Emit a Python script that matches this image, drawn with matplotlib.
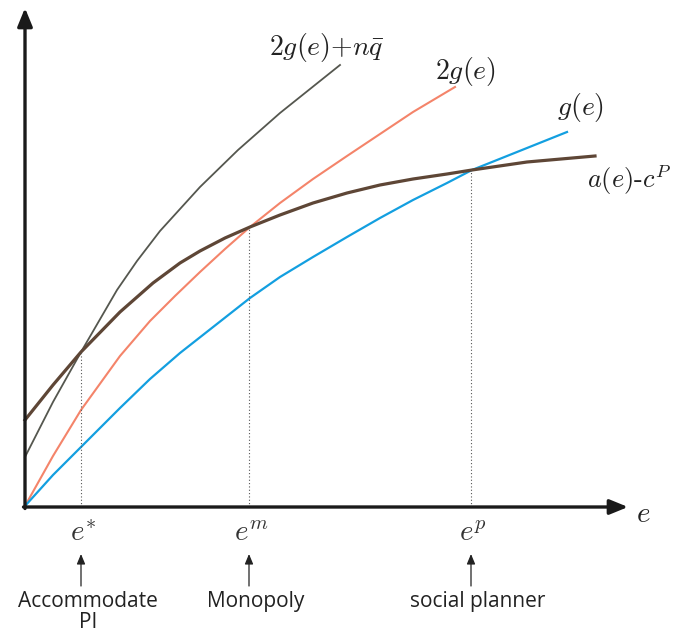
import matplotlib.pyplot as plt

plt.rcParams['mathtext.fontset'] = 'cm'

# curve readings (e along x axis, value along y axis), origin at the axes corner
g_e = [0, 28, 56, 95, 125, 155, 225, 255, 288, 322, 355, 388, 422, 447, 542]
g_y = [1, 32, 60, 99, 128, 154, 209, 230, 250, 270, 289, 307, 324, 337, 375]

g2_e = [0, 28, 56, 95, 125, 150, 175, 200, 225, 255, 288, 322, 355, 388, 430]
g2_y = [1, 51, 97, 151, 186, 211, 235, 258, 280, 304, 328, 351, 373, 395, 420]

gq_e = [0, 28, 56, 92, 112, 135, 175, 213, 255, 315]
gq_y = [50, 105, 155, 217, 246, 276, 320, 357, 394, 442]

a_e = [0, 28, 56, 95, 128, 155, 175, 200, 225, 255, 288, 322, 355, 388, 422, 447, 502, 570]
a_y = [87, 122, 155, 195, 224, 244, 256, 269, 280, 292, 304, 314, 322, 328, 333, 337, 345, 351]

# equilibrium points: (e, value)
eq_e = [56, 224, 446]
eq_y = [155, 280, 337]
eq_labels = [r'$e^{*}$', r'$e^{m}$', r'$e^{p}$']
eq_names = ['Accommodate\nPI', 'Monopoly', 'social planner']

fig = plt.figure(figsize=(6.73, 6.35), dpi=100)
ax = fig.add_axes([0, 0, 1, 1])
ax.set_xlim(-25, 648)
ax.set_ylim(-128, 507)
ax.axis('off')

# axes with arrow heads
ax.annotate('', xy=(0, 499), xytext=(0, -1.5),
            arrowprops=dict(arrowstyle='-|>,head_length=1.1,head_width=0.45',
                            lw=2.4, color='#1a1a1a', shrinkA=0, shrinkB=0))
ax.annotate('', xy=(603, 0), xytext=(-1.5, 0),
            arrowprops=dict(arrowstyle='-|>,head_length=1.1,head_width=0.45',
                            lw=2.4, color='#1a1a1a', shrinkA=0, shrinkB=0))

ax.plot(gq_e, gq_y, color='#55574f', lw=1.3)
ax.plot(g2_e, g2_y, color='#f4846a', lw=1.5)
ax.plot(g_e, g_y, color='#139fe0', lw=1.6)
ax.plot(a_e, a_y, color='#5e4636', lw=2.3)

for e, y in zip(eq_e, eq_y):
    ax.plot([e, e], [0, y], color='#555555', lw=0.8, ls=(0, (1, 2)))

ax.text(302, 459, r'$2g(e){+}n\bar{q}$', fontsize=20, ha='center', va='center', color='#222222')
ax.text(440, 435, r'$2g(e)$', fontsize=20, ha='center', va='center', color='#222222')
ax.text(556, 399, r'$g(e)$', fontsize=20, ha='center', va='center', color='#222222')
ax.text(562, 327, r'$a(e)\text{-}c^{P}$', fontsize=19, ha='left', va='center', color='#222222')
ax.text(618, -7, r'$e$', fontsize=21, ha='center', va='center', color='#222222')

for e, lab, name in zip(eq_e, eq_labels, eq_names):
    ax.text(e + 2, -26, lab, fontsize=21, ha='center', va='center', color='#333333')
    ax.annotate('', xy=(e, -47), xytext=(e, -79),
                arrowprops=dict(arrowstyle='-|>,head_length=0.6,head_width=0.25',
                                lw=0.9, color='#222222', shrinkA=0, shrinkB=0))
    ax.text(e + 7, -84, name, fontsize=15, ha='center', va='top', color='#222222',
            family='Open Sans', linespacing=1.0)

fig.savefig('out.png', dpi=100)
